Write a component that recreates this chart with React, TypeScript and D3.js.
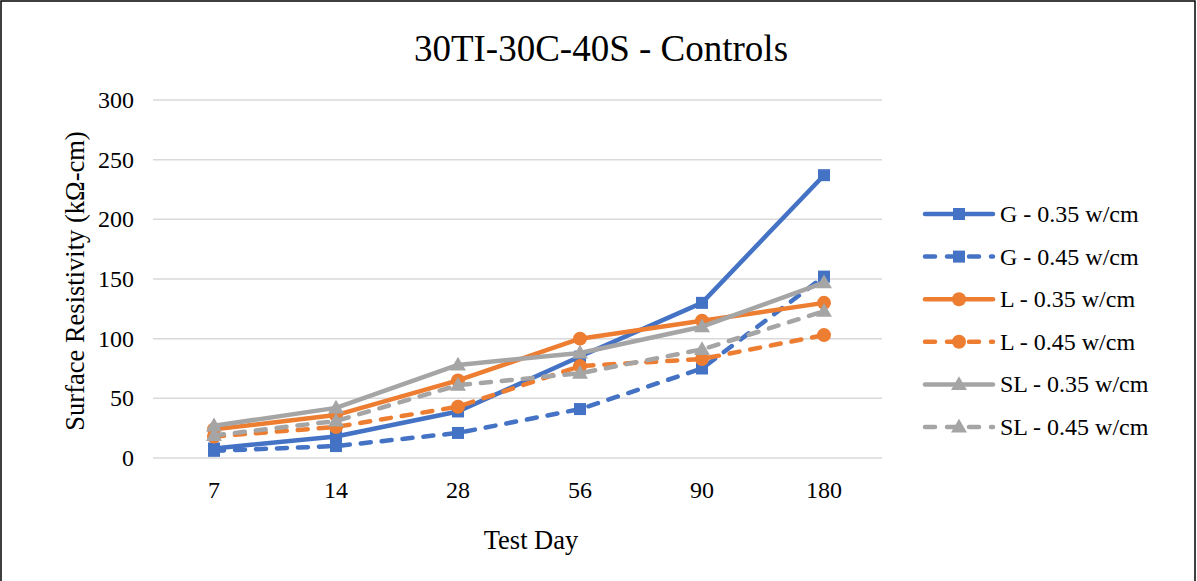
import React from "react";
import * as d3 from "d3";

const categories = ["7", "14", "28", "56", "90", "180"];
const yTicks = [0, 50, 100, 150, 200, 250, 300];
const seriesNames = [
  "G - 0.35 w/cm",
  "G - 0.45 w/cm",
  "L - 0.35 w/cm",
  "L - 0.45 w/cm",
  "SL - 0.35 w/cm",
  "SL - 0.45 w/cm",
];
const g035 = [8, 18, 39, 85, 130, 237];
const g045 = [6, 10, 21, 41, 75, 152];
const l035 = [24, 36, 65, 100, 115, 130];
const l045 = [18, 26, 43, 77, 83, 103];
const sl035 = [27, 42, 78, 88, 110, 147];
const sl045 = [19, 31, 61, 71, 91, 123];

const seriesValues = [g035, g045, l035, l045, sl035, sl045];
const colors = ["#4472C4", "#4472C4", "#ED7D31", "#ED7D31", "#A5A5A5", "#A5A5A5"];
const dashed = [false, true, false, true, false, true];
const markers = ["square", "square", "circle", "circle", "triangle", "triangle"];

const W = 1197;
const H = 581;
const plotLeft = 153;
const plotRight = 885;
const plotTop = 100;
const plotBottom = 458;
const font = "'Liberation Serif', 'Times New Roman', serif";

function Marker({ type, x, y, color }: { type: string; x: number; y: number; color: string }) {
  if (type === "square") {
    return <rect x={x - 6} y={y - 6} width={12} height={12} fill={color} />;
  }
  if (type === "circle") {
    return <circle cx={x} cy={y} r={7} fill={color} />;
  }
  const sym = d3.symbol().type(d3.symbolTriangle).size(110)();
  return <path d={sym || ""} transform={`translate(${x},${y + 1})`} fill={color} />;
}

export default function App() {
  const x = d3.scaleBand().domain(categories).range([plotLeft, plotRight]);
  const y = d3.scaleLinear().domain([0, 300]).range([plotBottom, plotTop]);
  const cx = (c: string) => (x(c) as number) + x.bandwidth() / 2;
  const line = d3
    .line<number>()
    .x((_, i) => cx(categories[i]))
    .y((d) => y(d));

  const legendX = 923;
  const legendY0 = 214;
  const legendStep = 42.6;

  return (
    <svg
      width={W}
      height={H}
      style={{ position: "absolute", left: 0, top: 0, background: "#fff" }}
      fontFamily={font}
    >
      <rect x={0} y={0} width={W} height={H} fill="#fff" />
      <rect x={1} y={1} width={W - 3} height={H + 10} fill="none" stroke="#000" strokeWidth={1.5} />
      <text x={601} y={61} textAnchor="middle" fontSize={37} fill="#000">
        30TI-30C-40S - Controls
      </text>
      {yTicks.map((t) => (
        <g key={t}>
          <line x1={plotLeft} x2={plotRight - 3} y1={y(t)} y2={y(t)} stroke="#D9D9D9" strokeWidth={1.5} />
          <text x={134} y={y(t) + 8} textAnchor="end" fontSize={24} fill="#000">
            {t}
          </text>
        </g>
      ))}
      {categories.map((c) => (
        <text key={c} x={cx(c)} y={498} textAnchor="middle" fontSize={24} fill="#000">
          {c}
        </text>
      ))}
      <text x={531} y={549} textAnchor="middle" fontSize={26.5} fill="#000">
        Test Day
      </text>
      <text
        transform={`translate(84,${281}) rotate(-90)`}
        textAnchor="middle"
        fontSize={26.5}
        fill="#000"
      >
        Surface Resistivity (kΩ-cm)
      </text>
      {seriesValues.map((vals, si) => (
        <g key={si}>
          <path
            d={line(vals) || ""}
            fill="none"
            stroke={colors[si]}
            strokeWidth={4.5}
            strokeLinejoin="round"
            strokeLinecap="round"
            strokeDasharray={dashed[si] ? "10 11" : undefined}
          />
          {vals.map((v, i) => (
            <Marker key={i} type={markers[si]} x={cx(categories[i])} y={y(v)} color={colors[si]} />
          ))}
        </g>
      ))}
      {seriesNames.map((name, si) => {
        const ly = legendY0 + si * legendStep;
        return (
          <g key={name}>
            <line
              x1={legendX + 2}
              x2={legendX + 70}
              y1={ly}
              y2={ly}
              stroke={colors[si]}
              strokeWidth={4.5}
              strokeLinecap="round"
              strokeDasharray={dashed[si] ? "10 12" : undefined}
            />
            <Marker type={markers[si]} x={legendX + 36} y={ly} color={colors[si]} />
            <text x={legendX + 77} y={ly + 8} fontSize={24} fill="#000">
              {name}
            </text>
          </g>
        );
      })}
    </svg>
  );
}
